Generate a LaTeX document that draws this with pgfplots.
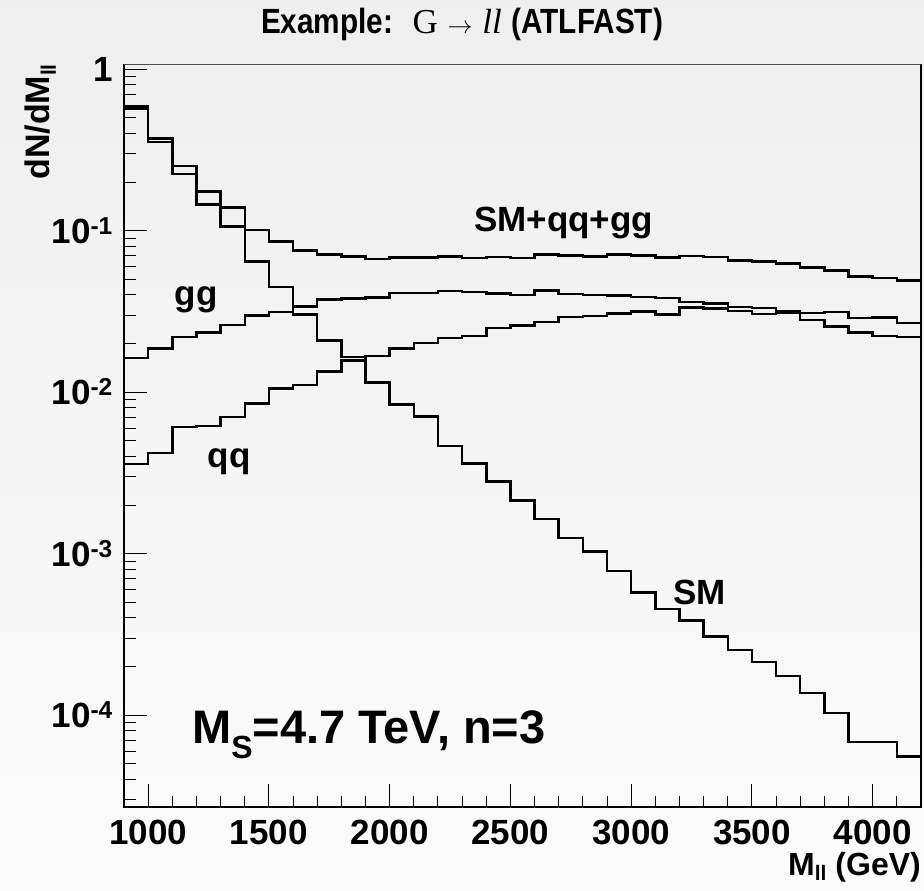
\documentclass[border=0pt]{standalone}
\usepackage{fontspec}
\setmainfont{Liberation Sans}
\newfontfamily\titlefont{Liberation Sans}[FakeStretch=0.85]
\newfontfamily\seriffont{Liberation Serif}
\usepackage{pgfplots}
\usepackage{pgfplotstable}
\pgfplotsset{compat=1.18}

\pgfplotstableread{
x y
900 0.57
1000 0.353
1100 0.224
1200 0.145
1300 0.106
1400 0.0646
1500 0.0447
1600 0.0303
1700 0.0209
1800 0.0165
1900 0.0115
2000 0.0084
2100 0.00706
2200 0.00465
2300 0.00363
2400 0.0028
2500 0.00214
2600 0.00164
2700 0.00125
2800 0.00103
2900 0.000784
3000 0.000577
3100 0.000455
3200 0.000386
3300 0.000308
3400 0.000253
3500 0.000213
3600 0.000175
3700 0.000137
3800 0.000103
3900 6.82e-5
4000 6.82e-5
4100 5.56e-5
4200 5.56e-5
}\smtab

\pgfplotstableread{
x y
900 0.59
1000 0.371
1100 0.252
1200 0.175
1300 0.139
1400 0.101
1500 0.0859
1600 0.0752
1700 0.0711
1800 0.0694
1900 0.0668
2000 0.0681
2100 0.0683
2200 0.0694
2300 0.0678
2400 0.0687
2500 0.0678
2600 0.0711
2700 0.0700
2800 0.0694
2900 0.0711
3000 0.0700
3100 0.0684
3200 0.0697
3300 0.0687
3400 0.0656
3500 0.0643
3600 0.0625
3700 0.0591
3800 0.0568
3900 0.0522
4000 0.0511
4100 0.0491
4200 0.0491
}\tottab

\pgfplotstableread{
x y
900 0.0163
1000 0.0186
1100 0.0220
1200 0.0235
1300 0.0260
1400 0.0298
1500 0.0314
1600 0.0340
1700 0.0375
1800 0.0380
1900 0.0385
2000 0.0410
2100 0.0412
2200 0.0424
2300 0.0417
2400 0.0408
2500 0.0401
2600 0.0426
2700 0.0406
2800 0.0399
2900 0.0397
3000 0.0389
3100 0.0384
3200 0.0362
3300 0.0354
3400 0.0338
3500 0.0331
3600 0.0315
3700 0.0310
3800 0.0313
3900 0.0289
4000 0.0291
4100 0.0269
4200 0.0269
}\ggtab

\pgfplotstableread{
x y
900 0.00358
1000 0.00419
1100 0.00608
1200 0.00618
1300 0.00702
1400 0.00849
1500 0.01054
1600 0.01106
1700 0.01339
1800 0.01573
1900 0.0168
2000 0.0186
2100 0.0202
2200 0.0216
2300 0.0223
2400 0.0250
2500 0.0258
2600 0.0272
2700 0.0292
2800 0.0297
2900 0.0308
3000 0.0316
3100 0.0302
3200 0.0334
3300 0.0330
3400 0.0318
3500 0.0305
3600 0.0310
3700 0.0279
3800 0.0256
3900 0.0235
4000 0.0223
4100 0.0220
4200 0.0220
}\qqtab

\begin{document}
\begin{tikzpicture}[x=1pt,y=1pt]
\path[use as bounding box] (-124,-84) rectangle (800,807);
\shade[top color=gray!13, bottom color=gray!3] (-124,-84) rectangle (800,807);
\begin{axis}[
  at={(0,0)}, anchor=south west,
  scale only axis, width=797pt, height=743pt,
  ymode=log,
  xmin=900, xmax=4200, ymin=2.7e-5, ymax=1.077,
  axis line style={draw=none},
  clip=false,
  tick align=inside,
  xtick pos=left, ytick pos=left,
  major tick length=23pt, minor tick length=11.5pt,
  every tick/.style={black, line width=1pt},
  xtick={1000,1500,2000,2500,3000,3500,4000},
  xticklabels={1000,1500,2000,2500,3000,3500,4000},
  minor xtick={1100,1200,...,4100},
  ytick={1e-4,1e-3,1e-2,1e-1,1},
  yticklabels={10\textsuperscript{-4},10\textsuperscript{-3},10\textsuperscript{-2},10\textsuperscript{-1},1},
  minor ytick={3e-5,4e-5,5e-5,6e-5,7e-5,8e-5,9e-5,
    2e-4,3e-4,4e-4,5e-4,6e-4,7e-4,8e-4,9e-4,
    2e-3,3e-3,4e-3,5e-3,6e-3,7e-3,8e-3,9e-3,
    2e-2,3e-2,4e-2,5e-2,6e-2,7e-2,8e-2,9e-2,
    0.2,0.3,0.4,0.5,0.6,0.7,0.8,0.9},
  xticklabel style={font=\fontsize{35}{40}\selectfont\bfseries, anchor=base, inner sep=0pt, yshift=-37pt},
  yticklabel style={font=\fontsize{35}{40}\selectfont\bfseries, anchor=base east, inner sep=0pt, xshift=-11pt, yshift=-12.5pt},
]
\addplot[const plot mark left, black, line width=2.5pt, no marks] table[x=x,y=y] {\tottab};
\addplot[const plot mark left, black, line width=2.5pt, no marks] table[x=x,y=y] {\smtab};
\addplot[const plot mark left, black, line width=2.5pt, no marks] table[x=x,y=y] {\ggtab};
\addplot[const plot mark left, black, line width=2.5pt, no marks] table[x=x,y=y] {\qqtab};

\draw[line width=2.7pt, black] (rel axis cs:0,1) -- (rel axis cs:0,0) -- (rel axis cs:1,0) -- (rel axis cs:1,1);
\draw[line width=1pt, black!70] (rel axis cs:0,1) -- (rel axis cs:1,1);

\node[anchor=base, inner sep=0pt, font=\fontsize{35}{40}\selectfont\bfseries] at (rel axis cs:0.5515,0.7752) {SM+qq+gg};
\node[anchor=base, inner sep=0pt, font=\fontsize{35}{40}\selectfont\bfseries] at (rel axis cs:0.0905,0.6756) {gg};
\node[anchor=base, inner sep=0pt, font=\fontsize{35}{40}\selectfont\bfseries] at (rel axis cs:0.1319,0.4563) {qq};
\node[anchor=base, inner sep=0pt, font=\fontsize{35}{40}\selectfont\bfseries] at (rel axis cs:0.7224,0.2732) {SM};
\node[anchor=base west, inner sep=0pt, font=\fontsize{47}{50}\selectfont\bfseries] at (rel axis cs:0.0854,0.0861) {M\raisebox{-15pt}{\fontsize{32}{32}\selectfont S}=4.7 TeV, n=3};
\end{axis}
% title
\node[anchor=base, inner sep=0pt] at (338,773) {\fontsize{35}{40}\selectfont{\titlefont\bfseries Example:}\ \ {\seriffont G} $\rightarrow$ {\seriffont\itshape ll} {\titlefont\bfseries (ATLFAST)}};
% y title
\node[rotate=90, anchor=base east, inner sep=0pt, font=\fontsize{34}{38}\selectfont\bfseries] at (-74,743) {dN/dM\raisebox{-6pt}{\fontsize{21}{21}\selectfont ll}};
% x title
\node[anchor=base east, inner sep=0pt, font=\fontsize{32}{36}\selectfont\bfseries] at (797,-69) {M\raisebox{-5pt}{\fontsize{21}{21}\selectfont ll} (GeV)};
\end{tikzpicture}
\end{document}
